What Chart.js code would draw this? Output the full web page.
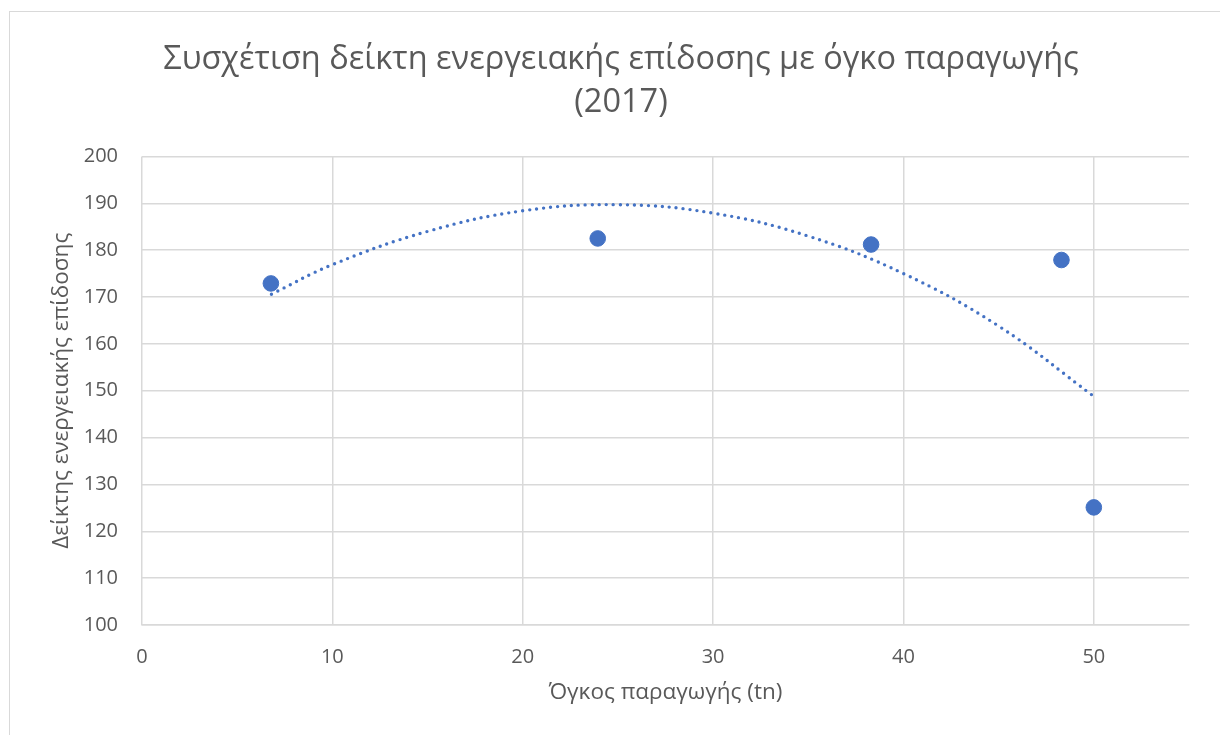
<!DOCTYPE html>
<html>
<head>
<meta charset="utf-8">
<script src="https://cdn.jsdelivr.net/npm/chart.js@4.4.1/dist/chart.umd.min.js"></script>
<style>
  html, body { margin: 0; padding: 0; background: #fff; overflow: hidden; }
  #frame {
    position: absolute; left: 9px; top: 11px; width: 1240px; height: 760px;
    border: 1.5px solid #d9d9d9; box-sizing: border-box;
  }
  #chart { position: absolute; left: 0; top: 0; }
</style>
</head>
<body>
<div id="frame"></div>
<canvas id="chart" width="1242" height="735"></canvas>
<script>
// measured points (όγκος παραγωγής, δείκτης)
const volume = [6.77, 23.94, 38.3, 48.3, 50.0];
const index = [172.9, 182.5, 181.2, 177.9, 125.1];

// polynomial trendline
const trendX = [6.8, 10, 15, 20, 25, 30, 35, 40, 45, 50];
const trendY = [170.6, 176.9, 184.0, 188.4, 189.7, 187.9, 183.0, 175.0, 163.8, 148.8];

const titleLines = ['Συσχέτιση δείκτη ενεργειακής επίδοσης με όγκο παραγωγής', '(2017)'];
const xTitle = 'Όγκος παραγωγής (tn)';
const yTitle = 'Δείκτης ενεργειακής επίδοσης';

const blue = '#4472c4';
const grid = '#d9d9d9';
const textGrey = '#595959';
const font = "'Open Sans', 'Noto Sans', sans-serif";

const pts = volume.map((v, i) => ({x: v, y: index[i]}));
const trend = trendX.map((v, i) => ({x: v, y: trendY[i]}));

new Chart(document.getElementById('chart'), {
  type: 'scatter',
  data: {
    datasets: [
      {
        label: 'Δείκτης',
        data: pts,
        backgroundColor: blue,
        borderColor: blue,
        pointRadius: 7.8,
        pointHoverRadius: 7.8,
        order: 1
      },
      {
        label: 'Trend',
        data: trend,
        showLine: true,
        pointRadius: 0,
        borderColor: blue,
        borderWidth: 3.4,
        borderDash: [0, 7],
        borderCapStyle: 'round',
        tension: 0.4,
        order: 2
      }
    ]
  },
  options: {
    responsive: false,
    animation: false,
    devicePixelRatio: 1,
    layout: { padding: 0 },
    plugins: {
      legend: { display: false },
      tooltip: { enabled: false },
      title: {
        display: true,
        text: titleLines,
        color: textGrey,
        font: { family: font, size: 32.5, weight: 'normal', lineHeight: 1.33 },
        padding: { top: 38, bottom: 32 }
      }
    },
    scales: {
      x: {
        type: 'linear',
        min: 0,
        max: 55,
        afterFit: s => { s.height = 110; },
        ticks: { stepSize: 10, includeBounds: false, color: textGrey, padding: 20,
                 font: { family: font, size: 20 } },
        grid: { color: grid, lineWidth: 1.5, drawTicks: false },
        border: { color: grid, width: 1.5 },
        title: { display: true, text: xTitle, color: textGrey,
                 font: { family: font, size: 22.5 }, padding: { top: 0, bottom: 28.5 } }
      },
      y: {
        min: 100,
        max: 200,
        afterFit: s => { s.width = 142; },
        ticks: { stepSize: 10, color: textGrey, padding: 24,
                 font: { family: font, size: 20 } },
        grid: { color: grid, lineWidth: 1.5, drawTicks: false },
        border: { display: false },
        title: { display: true, text: yTitle, color: textGrey,
                 font: { family: font, size: 22.5 }, padding: { top: 48.5, bottom: 0 } }
      },
      // empty right margin so the title centres on the whole frame
      yRight: {
        position: 'right',
        afterFit: s => { s.width = 53; },
        ticks: { display: false },
        grid: { display: false },
        border: { display: false }
      }
    }
  }
});
</script>
</body>
</html>
